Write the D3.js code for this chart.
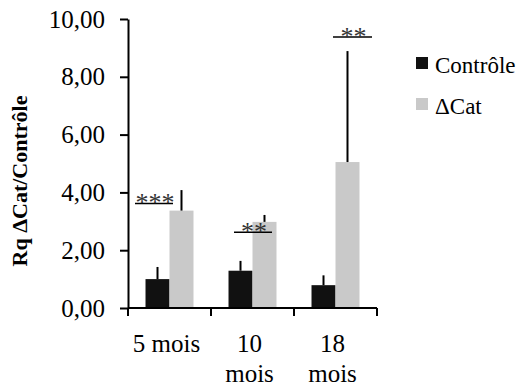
<!DOCTYPE html>
<html>
<head>
<meta charset="utf-8">
<script src="https://cdnjs.cloudflare.com/ajax/libs/d3/7.8.5/d3.min.js"></script>
<style>
  body { margin: 0; background: #fff; }
  svg text { font-family: 'Liberation Serif', 'Times New Roman', serif; }
</style>
</head>
<body>
<svg width="530" height="389"></svg>
<script>
// data
const categories = ['5 mois', '10 mois', '18 mois'];
const tickLines = [['5 mois'], ['10', 'mois'], ['18', 'mois']];
const series = ['Contrôle', 'ΔCat'];
const controle = [1.00, 1.29, 0.79];
const controleErr = [0.42, 0.34, 0.34];
const deltaCat = [3.37, 2.98, 5.05];
const deltaCatErr = [0.71, 0.24, 3.84];
const yTicks = [0, 2, 4, 6, 8, 10];

// significance marks
const sigLabels = ['***', '**', '**'];
const sigLevels = [3.62, 2.62, 9.38];
// bracket ends, px from start of the category band
const sigSpan = [[7, 45], [23, 61], [39, 78]];

const colors = ['#111111', '#c9c9c9'];

const svg = d3.select('svg');

const y = d3.scaleLinear()
    .domain([0, 10])
    .range([308, 19]);

const x0 = d3.scaleBand()
    .domain(categories)
    .range([128, 377]);

const x1 = d3.scaleBand()
    .domain(series)
    .range([0, x0.bandwidth()])
    .paddingInner(0)
    .paddingOuter(0.73);

const rows = categories.map((c, i) => ({
    cat: c,
    vals: [
        { s: series[0], v: controle[i], e: controleErr[i] },
        { s: series[1], v: deltaCat[i], e: deltaCatErr[i] }
    ]
}));

// bars
const groups = svg.selectAll('g.grp')
    .data(rows)
    .enter()
    .append('g')
    .attr('class', 'grp')
    .attr('transform', d => `translate(${x0(d.cat)},0)`);

groups.selectAll('rect')
    .data(d => d.vals)
    .enter()
    .append('rect')
    .attr('x', d => x1(d.s))
    .attr('width', x1.bandwidth())
    .attr('y', d => y(d.v))
    .attr('height', d => y(0) - y(d.v))
    .attr('fill', (d, i) => colors[i]);

// error bars (upper only)
groups.selectAll('line.err')
    .data(d => d.vals)
    .enter()
    .append('line')
    .attr('class', 'err')
    .attr('x1', d => x1(d.s) + x1.bandwidth() / 2)
    .attr('x2', d => x1(d.s) + x1.bandwidth() / 2)
    .attr('y1', d => y(d.v))
    .attr('y2', d => y(d.v + d.e))
    .attr('stroke', '#000')
    .attr('stroke-width', 2);

// y axis
const yAxis = svg.append('g')
    .attr('transform', 'translate(128,0)')
    .call(d3.axisLeft(y)
        .tickValues(yTicks)
        .tickFormat(d => d.toFixed(2).replace('.', ','))
        .tickSize(8)
        .tickSizeOuter(0)
        .tickPadding(15));
yAxis.select('.domain').attr('stroke-width', 2);
yAxis.selectAll('.tick line').attr('stroke-width', 2);
yAxis.selectAll('.tick text')
    .attr('font-size', 25)
    .attr('fill', '#000');

// x axis: line + ticks between categories
const xAxis = svg.append('g');
xAxis.append('line')
    .attr('x1', x0.range()[0])
    .attr('x2', x0.range()[1])
    .attr('y1', y(0))
    .attr('y2', y(0))
    .attr('stroke', '#000')
    .attr('stroke-width', 2);
const bounds = categories.map(c => x0(c)).concat([x0.range()[1]]);
xAxis.selectAll('line.tk')
    .data(bounds)
    .enter()
    .append('line')
    .attr('class', 'tk')
    .attr('x1', d => d)
    .attr('x2', d => d)
    .attr('y1', y(0))
    .attr('y2', y(0) + 8)
    .attr('stroke', '#000')
    .attr('stroke-width', 2);
xAxis.selectAll('text')
    .data(categories)
    .enter()
    .append('text')
    .attr('x', d => x0(d) + x0.bandwidth() / 2 - 3)
    .attr('y', 352)
    .attr('text-anchor', 'middle')
    .attr('font-size', 25)
    .each(function (d, i) {
        d3.select(this).selectAll('tspan')
            .data(tickLines[i])
            .enter()
            .append('tspan')
            .attr('x', x0(d) + x0.bandwidth() / 2 - 3)
            .attr('dy', (t, j) => j === 0 ? 0 : 30)
            .text(t => t);
    });

// significance brackets
const sig = svg.selectAll('g.sig')
    .data(categories)
    .enter()
    .append('g')
    .attr('class', 'sig');
sig.append('line')
    .attr('x1', (d, i) => x0(d) + sigSpan[i][0])
    .attr('x2', (d, i) => x0(d) + sigSpan[i][1])
    .attr('y1', (d, i) => y(sigLevels[i]))
    .attr('y2', (d, i) => y(sigLevels[i]))
    .attr('stroke', '#000')
    .attr('stroke-width', 1.5);
sig.append('text')
    .attr('x', (d, i) => x0(d) + (sigSpan[i][0] + sigSpan[i][1]) / 2 + 1)
    .attr('y', (d, i) => y(sigLevels[i]) + 8)
    .attr('text-anchor', 'middle')
    .attr('font-size', 26)
    .attr('fill', '#333')
    .text((d, i) => sigLabels[i]);

// y label
svg.append('text')
    .attr('transform', 'translate(27,181) rotate(-90)')
    .attr('text-anchor', 'middle')
    .attr('font-size', 22)
    .attr('font-weight', 'bold')
    .text('Rq ΔCat/Contrôle');

// legend
const legend = svg.selectAll('g.leg')
    .data(series)
    .enter()
    .append('g')
    .attr('class', 'leg')
    .attr('transform', (d, i) => `translate(416,${57 + i * 41})`);
legend.append('rect')
    .attr('width', 12)
    .attr('height', 12)
    .attr('fill', (d, i) => colors[i]);
legend.append('text')
    .attr('x', 19)
    .attr('y', 16)
    .attr('font-size', 23)
    .text(d => d);
</script>
</body>
</html>
